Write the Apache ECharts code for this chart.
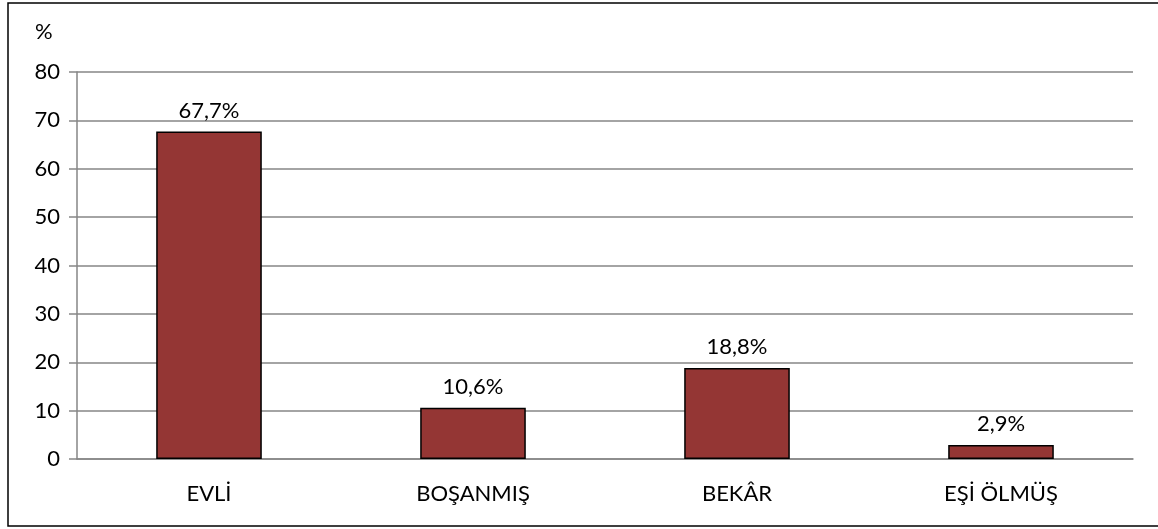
<!DOCTYPE html>
<html><head><meta charset="utf-8">
<script src="https://cdn.jsdelivr.net/npm/echarts@6/dist/echarts.min.js"></script>
<style>html,body{margin:0;padding:0;background:#fff}#c{width:1158px;height:529px}</style>
</head><body><div id="c"></div>
<script>
const categories = ['EVLİ', 'BOŞANMIŞ', 'BEKÂR', 'EŞİ ÖLMÜŞ'];
const values = [67.7, 10.6, 18.8, 2.9];
const yTicks = [0, 10, 20, 30, 40, 50, 60, 70, 80];
const unitLabel = '%';

const FONT = 'Lato, "Open Sans", sans-serif';
const FS = 22;
const chart = echarts.init(document.getElementById('c'));
chart.setOption({
  animation: false,
  backgroundColor: '#fff',
  grid: { left: 77, right: 25, top: 72, bottom: 70 },
  graphic: [
    { type: 'rect', shape: { x: 8, y: 3, width: 1160, height: 523 }, style: { fill: 'none', stroke: '#000', lineWidth: 1.5 }, z: 100 },
    { type: 'text', left: 35, top: 21, style: { text: unitLabel, font: FS + 'px ' + FONT, fill: '#000' } }
  ],
  xAxis: {
    type: 'category', data: categories,
    axisLine: { lineStyle: { color: '#868686', width: 1.5 } },
    axisTick: { show: false },
    axisLabel: { color: '#000', fontSize: FS, fontFamily: FONT, margin: 24 }
  },
  yAxis: {
    type: 'value', min: yTicks[0], max: yTicks[yTicks.length - 1], interval: 10,
    axisLine: { show: true, lineStyle: { color: '#868686', width: 1.5 } },
    axisTick: { show: true, length: 8, lineStyle: { color: '#868686', width: 1.5 } },
    splitLine: { lineStyle: { color: '#868686', width: 1.5 } },
    axisLabel: { color: '#000', fontSize: FS, fontFamily: FONT, margin: 17 }
  },
  series: [{
    type: 'bar', data: values, barWidth: '40%',
    itemStyle: { color: '#943634', borderColor: '#000', borderWidth: 1.5 },
    label: {
      show: true, position: 'top', distance: 10, color: '#000', fontSize: FS, fontFamily: FONT,
      formatter: p => p.value.toFixed(1).replace('.', ',') + '%'
    }
  }]
});
</script></body></html>
